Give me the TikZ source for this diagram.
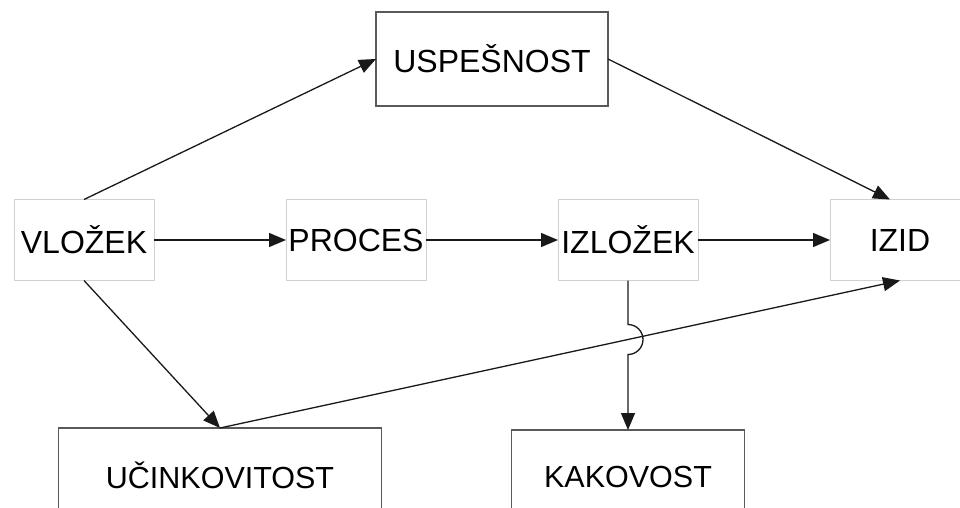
\documentclass[tikz,border=0pt]{standalone}
\usepackage{fontspec}
\setmainfont{Liberation Sans}
\usepackage{tikz}
\usetikzlibrary{arrows.meta,positioning}

\tikzset{
  block/.style={draw=black!18,line width=0.8pt,inner sep=0pt,outer sep=0pt,
    minimum width=140pt,minimum height=81pt,font=\fontsize{32}{34}\selectfont},
  bigblock/.style={draw=black!65,line width=1.6pt,inner sep=0pt,outer sep=0pt,
    minimum height=94pt,font=\fontsize{30.5}{34}\selectfont},
}

\begin{document}
\begin{tikzpicture}[x=1pt,y=-1pt,node distance=272pt,on grid,
    >={Triangle[length=17pt,width=14pt]},line width=1.3pt]
  \useasboundingbox (0,0) rectangle (960,508);
  \node[block] (vlozek) at (84,240) {VLOŽEK};
  \node[block] (proces) [right = of vlozek] {PROCES};
  \node[block] (izlozek) [right = of proces] {IZLOŽEK};
  \node[block] (izid) [right = of izlozek] {IZID};
  \node[bigblock,minimum width=232pt,font=\fontsize{32}{34}\selectfont] (uspesnost) [above right = 181pt and 136pt of proces] {USPEŠNOST\hspace{16pt}};
  \node[bigblock,minimum width=323pt] (ucinkovitost) [below right = 235pt and 136pt of vlozek] {UČINKOVITOST};
  \node[bigblock,minimum width=233pt] (kakovost) [below = 237pt of izlozek] {KAKOVOST};
  \coordinate (hop) at (intersection of ucinkovitost.north--izid.south and izlozek.south--kakovost.north);
  \path[->,black!90]
  (vlozek)
  edge [] (proces)
  (vlozek.north) edge [] (uspesnost.west)
  (vlozek.south) edge [] (ucinkovitost.north)
  (proces) edge [] (izlozek)
  (izlozek) edge [] (izid)
  (uspesnost.east) edge [] ([xshift=-10pt]izid.north)
  (ucinkovitost.north) edge [] (izid.south)
  ;
  \draw[->,black!90] (izlozek.south) -- ([yshift=15pt]hop) arc (90:-90:15pt) -- (izlozek.south |- kakovost.north);
\end{tikzpicture}
\end{document}
